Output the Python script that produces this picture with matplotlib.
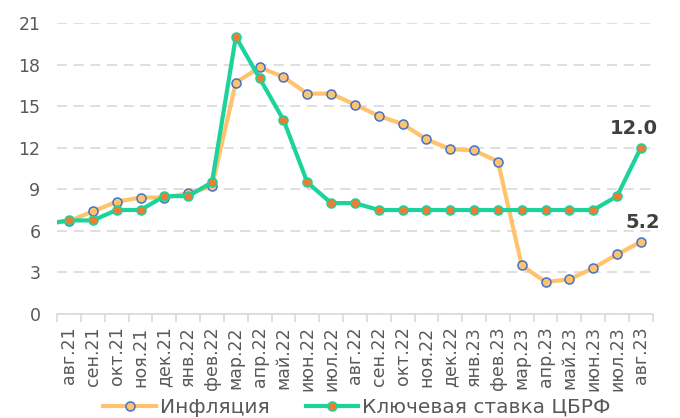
import matplotlib.pyplot as plt
import numpy as np

# data (first month sits just outside the visible range, as in the source chart)
months = ["июл.21", "авг.21", "сен.21", "окт.21", "ноя.21", "дек.21", "янв.22", "фев.22",
          "мар.22", "апр.22", "май.22", "июн.22", "июл.22", "авг.22", "сен.22", "окт.22",
          "ноя.22", "дек.22", "янв.23", "фев.23", "мар.23", "апр.23", "май.23", "июн.23",
          "июл.23", "авг.23"]
inflation = [6.5, 6.7, 7.4, 8.1, 8.4, 8.4, 8.7, 9.2, 16.7, 17.8, 17.1, 15.9, 15.9, 15.1,
             14.3, 13.7, 12.6, 11.9, 11.8, 11.0, 3.5, 2.3, 2.5, 3.3, 4.3, 5.2]
key_rate = [6.5, 6.75, 6.75, 7.5, 7.5, 8.5, 8.5, 9.5, 20.0, 17.0, 14.0, 9.5, 8.0, 8.0,
            7.5, 7.5, 7.5, 7.5, 7.5, 7.5, 7.5, 7.5, 7.5, 7.5, 8.5, 12.0]

x = np.arange(len(months)) - 1

fig = plt.figure(figsize=(6.8, 4.18), dpi=100)
ax = fig.add_axes([0.084, 0.249, 0.876, 0.696])

ax.plot(x, inflation, color="#FFC36E", linewidth=3, marker="o", markersize=6.5,
        markerfacecolor="#FFC36E", markeredgecolor="#4472C4", markeredgewidth=1.1,
        label="Инфляция", zorder=3)
ax.plot(x, key_rate, color="#1CD39B", linewidth=3, marker="o", markersize=6.5,
        markerfacecolor="#ED7D31", markeredgecolor="#1CD39B", markeredgewidth=1.1,
        label="Ключевая ставка ЦБРФ", zorder=4)

# labels on last points
ax.annotate(f"{key_rate[-1]:.1f}", (x[-1], key_rate[-1]), xytext=(-5, 7),
            textcoords="offset points", ha="center", va="bottom",
            fontsize=14, fontweight="bold", color="#404040")
ax.annotate(f"{inflation[-1]:.1f}", (x[-1], inflation[-1]), xytext=(1, 7),
            textcoords="offset points", ha="center", va="bottom",
            fontsize=14, fontweight="bold", color="#404040")

ax.set_xlim(-0.5, len(months) - 1.5)
ax.set_ylim(0, 21)
ax.set_yticks(range(0, 22, 3))
ax.set_xticks(x[1:])
ax.set_xticklabels(months[1:], rotation=90)
ax.set_xticks(np.arange(-0.5, len(months) - 1, 1), minor=True)

ax.grid(axis="y", color="#d9d9d9", linestyle=(0, (6, 4)), linewidth=1.2)
ax.set_axisbelow(True)
for s in ["top", "right", "left"]:
    ax.spines[s].set_visible(False)
ax.spines["bottom"].set_color("#d9d9d9")
ax.spines["bottom"].set_linewidth(1.2)

ax.tick_params(axis="x", which="major", length=0, pad=9, labelsize=12.5, colors="#595959")
ax.tick_params(axis="x", which="minor", length=6, color="#d9d9d9", width=1.2)
ax.tick_params(axis="y", length=0, pad=12, labelsize=12.5, colors="#595959")

fig.legend(loc="lower center", bbox_to_anchor=(0.525, -0.04), ncol=2, frameon=False,
           fontsize=14.5, labelcolor="#595959", handlelength=2.6, handletextpad=0.2,
           columnspacing=1.8)

fig.savefig("out.png", dpi=100)
